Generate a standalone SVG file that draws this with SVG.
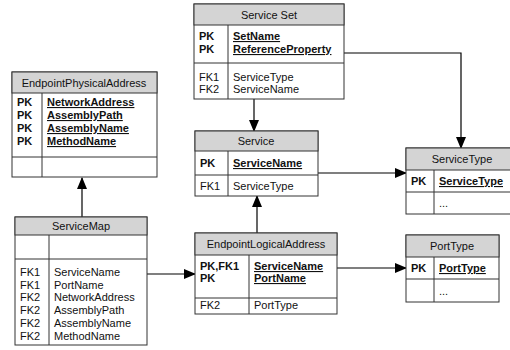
<svg xmlns="http://www.w3.org/2000/svg" width="510" height="350" viewBox="0 0 510 350">
<style>
text{font-family:"Liberation Sans",Arial,sans-serif;font-size:11px;fill:#111}
.t{text-anchor:middle}
.b{font-weight:bold}
.u{font-weight:bold;text-decoration:underline}
.hd{fill:#d4d4d4;stroke:#333;stroke-width:1}
.bx{fill:#fff;stroke:#333;stroke-width:1}
.ln{stroke:#333;stroke-width:1;fill:none}
.cn{stroke:#000;stroke-width:1.2;fill:none;marker-end:url(#ah)}
</style>
<defs>
<marker id="ah" markerWidth="12" markerHeight="10" refX="11" refY="5" orient="auto" markerUnits="userSpaceOnUse">
<path d="M0,0 L12,5 L0,10 Z" fill="#000"/>
</marker>
</defs>
<rect width="510" height="350" fill="#fff"/>

<g id="connectors">
<path class="cn" d="M254,99 V131"/>
<path class="cn" d="M344,53 H461 V148"/>
<path class="cn" d="M318,173 H406"/>
<path class="cn" d="M82,217 V178"/>
<path class="cn" d="M147,274 H195"/>
<path class="cn" d="M257,233 V196"/>
<path class="cn" d="M337,268 H406"/>
</g>

<g id="ServiceSet">
<rect class="bx" x="194" y="4" width="150" height="95"/>
<rect class="hd" x="194" y="4" width="150" height="21"/>
<line class="ln" x1="194" y1="63" x2="344" y2="63"/>
<line class="ln" x1="228" y1="25" x2="228" y2="99"/>
<text class="t" x="269" y="19">Service Set</text>
<text class="b" x="199" y="40">PK</text>
<text class="u" x="233" y="40">SetName</text>
<text class="b" x="199" y="53">PK</text>
<text class="u" x="233" y="53">ReferenceProperty</text>
<text x="199" y="81">FK1</text>
<text x="233" y="81">ServiceType</text>
<text x="199" y="93">FK2</text>
<text x="233" y="93">ServiceName</text>
</g>

<g id="EndpointPhysicalAddress">
<rect class="bx" x="12" y="72" width="145" height="105"/>
<rect class="hd" x="12" y="72" width="145" height="21"/>
<line class="ln" x1="12" y1="157" x2="157" y2="157"/>
<line class="ln" x1="42" y1="93" x2="42" y2="177"/>
<text class="t" x="84" y="87">EndpointPhysicalAddress</text>
<text class="b" x="17" y="106">PK</text>
<text class="u" x="47" y="106">NetworkAddress</text>
<text class="b" x="17" y="119">PK</text>
<text class="u" x="47" y="119">AssemblyPath</text>
<text class="b" x="17" y="132">PK</text>
<text class="u" x="47" y="132">AssemblyName</text>
<text class="b" x="17" y="145">PK</text>
<text class="u" x="47" y="145">MethodName</text>
</g>

<g id="Service">
<rect class="bx" x="195" y="131" width="123" height="65"/>
<rect class="hd" x="195" y="131" width="123" height="20"/>
<line class="ln" x1="195" y1="175" x2="318" y2="175"/>
<line class="ln" x1="228" y1="151" x2="228" y2="196"/>
<text class="t" x="256" y="145">Service</text>
<text class="b" x="200" y="167">PK</text>
<text class="u" x="233" y="167">ServiceName</text>
<text x="200" y="190">FK1</text>
<text x="233" y="190">ServiceType</text>
</g>

<g id="ServiceType">
<rect class="bx" x="406" y="148" width="112" height="66"/>
<rect class="hd" x="406" y="148" width="112" height="22"/>
<line class="ln" x1="406" y1="192" x2="518" y2="192"/>
<line class="ln" x1="434" y1="170" x2="434" y2="214"/>
<text class="t" x="462" y="163">ServiceType</text>
<text class="b" x="411" y="185">PK</text>
<text class="u" x="439" y="185">ServiceType</text>
<text x="439" y="207">...</text>
</g>

<g id="ServiceMap">
<rect class="bx" x="15" y="217" width="132" height="128"/>
<rect class="hd" x="15" y="217" width="132" height="18"/>
<line class="ln" x1="15" y1="259" x2="147" y2="259"/>
<line class="ln" x1="49" y1="235" x2="49" y2="345"/>
<text class="t" x="81" y="230">ServiceMap</text>
<text x="20" y="276">FK1</text>
<text x="54" y="276">ServiceName</text>
<text x="20" y="289">FK1</text>
<text x="54" y="289">PortName</text>
<text x="20" y="301">FK2</text>
<text x="54" y="301">NetworkAddress</text>
<text x="20" y="314">FK2</text>
<text x="54" y="314">AssemblyPath</text>
<text x="20" y="327">FK2</text>
<text x="54" y="327">AssemblyName</text>
<text x="20" y="340">FK2</text>
<text x="54" y="340">MethodName</text>
</g>

<g id="EndpointLogicalAddress">
<rect class="bx" x="195" y="233" width="142" height="81"/>
<rect class="hd" x="195" y="233" width="142" height="22"/>
<line class="ln" x1="195" y1="298" x2="337" y2="298"/>
<line class="ln" x1="249" y1="255" x2="249" y2="314"/>
<text class="t" x="266" y="248">EndpointLogicalAddress</text>
<text class="b" x="200" y="270">PK,FK1</text>
<text class="u" x="254" y="270">ServiceName</text>
<text class="b" x="200" y="282">PK</text>
<text class="u" x="254" y="282">PortName</text>
<text x="200" y="309">FK2</text>
<text x="254" y="309">PortType</text>
</g>

<g id="PortType">
<rect class="bx" x="406" y="235" width="93" height="67"/>
<rect class="hd" x="406" y="235" width="93" height="22"/>
<line class="ln" x1="406" y1="279" x2="499" y2="279"/>
<line class="ln" x1="434" y1="257" x2="434" y2="302"/>
<text class="t" x="452" y="250">PortType</text>
<text class="b" x="411" y="272">PK</text>
<text class="u" x="439" y="272">PortType</text>
<text x="439" y="295">...</text>
</g>
</svg>
